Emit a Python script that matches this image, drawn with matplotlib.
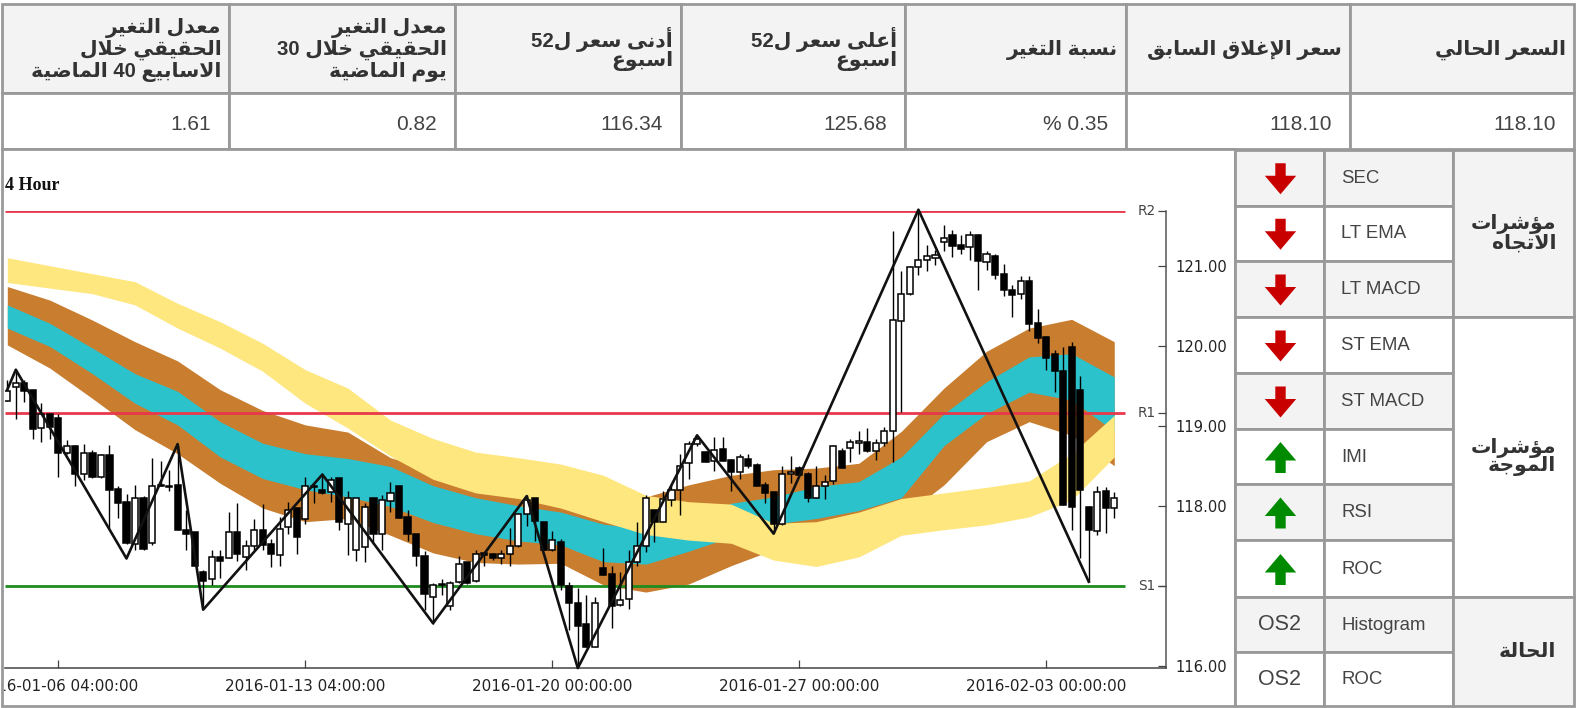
import matplotlib
matplotlib.use("Agg")
import matplotlib.pyplot as plt
from matplotlib.patches import Rectangle, Polygon
from matplotlib.transforms import Bbox

# ---------- data ----------
OPEN = [119.31,119.48,119.54,119.45,118.97,119.15,119.10,118.66,118.74,118.40,118.66,118.36,118.63,118.21,118.04,117.52,118.09,117.53,118.26,118.23,
118.26,117.70,117.67,117.17,117.08,117.36,117.35,117.67,117.36,117.50,117.70,117.52,117.38,117.73,117.97,117.83,118.24,118.20,118.17,118.35,
117.77,117.44,117.48,118.10,117.65,118.06,118.25,117.86,117.64,117.37,116.86,117.02,116.74,117.04,117.29,117.06,117.41,117.40,117.35,117.40,
117.50,117.89,118.09,117.79,117.44,117.55,116.99,116.78,116.52,116.23,117.22,117.15,116.76,116.83,117.30,117.50,117.94,117.80,118.07,118.19,
118.53,118.77,118.67,118.56,118.71,118.57,118.42,118.58,118.51,118.26,118.17,117.77,118.40,118.47,118.40,118.10,118.24,118.31,118.68,118.72,
118.78,118.80,118.68,118.78,118.93,120.31,120.65,120.99,121.07,121.10,121.30,121.39,121.26,121.23,121.38,121.05,121.12,120.90,120.70,120.65,
120.81,120.28,120.11,119.90,119.69,119.99,119.45,117.98,117.68,118.18,117.97]
HIGH = [119.57,119.70,119.57,119.45,119.28,119.15,119.15,118.82,118.76,118.77,118.70,118.65,118.76,118.24,118.15,118.26,118.12,118.59,118.56,118.45,
118.76,117.95,117.67,117.20,117.45,117.45,117.92,118.03,117.57,117.83,118.02,117.58,117.86,118.04,117.97,118.36,118.27,118.38,118.36,118.35,
118.18,118.10,118.03,118.10,118.13,118.29,118.25,117.95,117.64,117.43,117.03,117.08,117.06,117.37,117.30,117.45,117.42,117.41,117.45,117.72,
117.90,118.13,118.09,117.79,117.68,117.58,117.04,116.97,116.88,116.86,117.47,117.24,117.17,117.45,117.79,118.13,117.95,118.18,118.27,118.65,
118.81,118.88,118.68,118.86,118.86,118.58,118.64,118.64,118.53,118.29,118.17,118.49,118.62,118.49,118.42,118.49,118.38,118.76,118.72,118.84,
118.94,118.97,118.83,118.98,121.43,120.93,121.00,121.68,121.26,121.20,121.51,121.45,121.38,121.43,121.40,121.19,121.15,121.02,120.76,120.87,
120.87,120.46,120.12,119.95,119.98,120.05,119.62,118.00,118.25,118.23,118.17]
LOW = [119.31,119.09,119.30,118.83,118.80,118.83,118.36,118.65,118.25,118.32,118.35,118.35,117.72,117.84,117.52,117.45,117.45,117.51,118.24,118.18,
117.70,117.45,117.24,116.72,117.01,117.10,117.34,117.31,117.19,117.45,117.45,117.23,117.25,117.65,117.39,117.77,118.03,118.15,118.04,117.70,
117.38,117.31,117.30,117.52,117.44,117.92,117.85,117.56,117.24,116.70,116.52,116.88,116.70,117.03,117.02,117.05,117.25,117.32,117.27,117.24,
117.48,117.75,117.56,117.44,117.43,116.94,116.44,115.99,116.23,116.23,117.13,116.47,116.75,116.71,117.24,117.42,117.54,117.79,118.00,117.88,
118.33,118.74,118.55,118.43,118.56,118.18,118.33,118.47,118.24,118.03,117.67,117.76,118.28,118.38,118.04,118.09,118.08,118.27,118.47,118.55,
118.64,118.67,118.57,118.75,118.54,119.17,120.64,120.88,120.94,121.01,121.18,121.11,121.15,121.07,120.70,120.95,120.83,120.62,120.36,120.59,
120.19,120.03,119.70,119.42,118.01,117.69,117.35,117.05,117.63,117.66,117.84]
CLOSE = [119.43,119.54,119.43,118.96,119.15,118.98,118.66,118.75,118.40,118.66,118.36,118.63,118.20,118.03,117.53,118.09,117.46,118.25,118.24,118.25,
117.70,117.65,117.24,117.06,117.36,117.31,117.67,117.39,117.50,117.70,117.51,117.40,117.71,117.95,117.61,118.24,118.23,118.16,118.32,117.79,
118.09,118.10,117.98,117.65,118.07,118.16,117.85,117.64,117.37,116.89,117.01,117.01,117.03,117.27,117.03,117.40,117.38,117.34,117.40,117.50,
117.90,118.07,117.81,117.44,117.57,117.01,116.78,116.50,116.23,116.78,117.13,116.74,116.82,117.29,117.49,118.10,117.80,118.08,118.19,118.50,
118.77,118.83,118.55,118.70,118.56,118.42,118.61,118.50,118.24,118.16,117.77,118.40,118.42,118.38,118.10,118.25,118.30,118.75,118.47,118.80,
118.81,118.68,118.78,118.93,120.32,120.65,120.99,121.07,121.12,121.14,121.35,121.25,121.21,121.38,121.06,121.15,120.89,120.70,120.64,120.81,
120.27,120.10,119.85,119.68,118.01,117.98,118.19,117.69,118.17,117.97,118.10]

BAND_INDEX = [0,5,10,15,20,25,30,35,40,45,50,55,60,65,70,75,80,85,90,95,100,105,110,115,120,125,130]
YELLOW_TOP = [121.10,121.00,120.90,120.80,120.53,120.30,120.03,119.70,119.47,119.07,118.84,118.67,118.60,118.52,118.38,118.13,118.05,118.02,117.78,117.80,117.92,118.09,118.16,118.23,118.31,118.65,119.13]
YELLOW_BOT = [120.79,120.72,120.65,120.51,120.22,119.97,119.68,119.28,118.97,118.62,118.33,118.16,118.09,117.97,117.80,117.64,117.57,117.53,117.32,117.24,117.36,117.63,117.70,117.76,117.86,118.07,118.61]
BROWN_TOP = [120.74,120.57,120.32,120.05,119.81,119.45,119.19,119.01,118.92,118.60,118.45,118.30,118.20,118.15,118.10,118.11,118.26,118.38,118.45,118.47,118.53,118.93,119.47,119.93,120.22,120.33,120.05]
CYAN_TOP = [120.51,120.28,119.97,119.65,119.43,119.05,118.78,118.65,118.59,118.49,118.25,118.10,118.00,117.92,117.77,117.70,117.82,118.03,118.11,118.24,118.30,118.61,119.15,119.55,119.86,119.90,119.61]
CYAN_BOT = [120.22,119.99,119.65,119.28,119.01,118.61,118.34,118.20,118.11,117.99,117.79,117.65,117.56,117.51,117.30,117.27,117.43,117.61,117.77,117.84,117.94,118.10,118.75,119.15,119.42,119.32,118.93]
BROWN_BOT = [120.01,119.72,119.34,118.95,118.65,118.28,117.97,117.80,117.84,117.63,117.41,117.29,117.27,117.28,117.01,116.92,117.02,117.25,117.45,117.60,117.75,117.85,118.26,118.80,119.05,118.88,118.50]

ZIGZAG_INDEX = [0,1,14,20,23,37,50,61,67,81,90,107,127]
ZIGZAG_PRICE = [119.45,119.70,117.34,118.77,116.70,118.39,116.53,118.12,115.97,118.88,117.65,121.70,117.05]

LEVEL_NAMES = ["R2","R1","S1"]
LEVEL_VALUES = [121.68,119.16,117.00]
LEVEL_COLORS = ["#E8384C","#E8384C","#1E8C1E"]

XTICK_INDEX = [6,35,64,93,122]
XTICK_LABELS = ["2016-01-06 04:00:00","2016-01-13 04:00:00","2016-01-20 00:00:00","2016-01-27 00:00:00","2016-02-03 00:00:00"]
YTICKS = [116,117,118,119,120,121]

HEADERS = [["معدل التغير","الحقيقي خلال","الاسابيع 40 الماضية"],
           ["معدل التغير","الحقيقي خلال 30","يوم الماضية"],
           ["أدنى سعر ل52","اسبوع"],
           ["أعلى سعر ل52","اسبوع"],
           ["نسبة التغير"],
           ["سعر الإغلاق السابق"],
           ["السعر الحالي"]]
VALUES = ["1.61","0.82","116.34","125.68","% 0.35","118.10","118.10"]

ROW_NAMES = ["SEC","LT EMA","LT MACD","ST EMA","ST MACD","IMI","RSI","ROC","Histogram","ROC"]
ROW_STATE = ["down","down","down","down","down","up","up","up","OS2","OS2"]
GROUPS = [(["مؤشرات","الاتجاه"],0,3),(["مؤشرات","الموجة"],3,8),(["الحالة"],8,10)]

# ---------- Arabic shaping (matplotlib has no bidi/joining) ----------
FORMS = {
 'ا':(0xFE8D,0xFE8E,None,None),'أ':(0xFE83,0xFE84,None,None),'إ':(0xFE87,0xFE88,None,None),
 'ب':(0xFE8F,0xFE90,0xFE91,0xFE92),'ة':(0xFE93,0xFE94,None,None),'ت':(0xFE95,0xFE96,0xFE97,0xFE98),
 'ج':(0xFE9D,0xFE9E,0xFE9F,0xFEA0),'ح':(0xFEA1,0xFEA2,0xFEA3,0xFEA4),'خ':(0xFEA5,0xFEA6,0xFEA7,0xFEA8),
 'د':(0xFEA9,0xFEAA,None,None),'ر':(0xFEAD,0xFEAE,None,None),'س':(0xFEB1,0xFEB2,0xFEB3,0xFEB4),
 'ش':(0xFEB5,0xFEB6,0xFEB7,0xFEB8),'ض':(0xFEBD,0xFEBE,0xFEBF,0xFEC0),'ع':(0xFEC9,0xFECA,0xFECB,0xFECC),
 'غ':(0xFECD,0xFECE,0xFECF,0xFED0),'ق':(0xFED5,0xFED6,0xFED7,0xFED8),'ل':(0xFEDD,0xFEDE,0xFEDF,0xFEE0),
 'م':(0xFEE1,0xFEE2,0xFEE3,0xFEE4),'ن':(0xFEE5,0xFEE6,0xFEE7,0xFEE8),'ه':(0xFEE9,0xFEEA,0xFEEB,0xFEEC),
 'و':(0xFEED,0xFEEE,None,None),'ؤ':(0xFE85,0xFE86,None,None),'ى':(0xFEEF,0xFEF0,None,None),
 'ي':(0xFEF1,0xFEF2,0xFEF3,0xFEF4),
}
LAM_ALEF = {'ا':(0xFEFB,0xFEFC),'أ':(0xFEF7,0xFEF8),'إ':(0xFEF9,0xFEFA)}

def shape(text):
    units = []
    i = 0
    while i < len(text):
        c = text[i]
        if c == 'ل' and i + 1 < len(text) and text[i+1] in LAM_ALEF:
            units.append(('lamalef', text[i+1])); i += 2
        else:
            units.append(('ch', c)); i += 1
    def joins_next(u):
        return u[0] == 'ch' and u[1] in FORMS and FORMS[u[1]][2] is not None
    def arabic(u):
        return u[0] == 'lamalef' or u[1] in FORMS
    out = []
    for k, u in enumerate(units):
        prev_j = k > 0 and joins_next(units[k-1])
        next_j = k + 1 < len(units) and arabic(units[k+1])
        if u[0] == 'lamalef':
            out.append(chr(LAM_ALEF[u[1]][1 if prev_j else 0]))
        elif u[1] in FORMS:
            f = FORMS[u[1]]
            can_next = f[2] is not None and next_j
            if prev_j and can_next:
                out.append(chr(f[3]))
            elif prev_j:
                out.append(chr(f[1]))
            elif can_next:
                out.append(chr(f[2]))
            else:
                out.append(chr(f[0]))
        else:
            out.append(u[1])
    # visual order: reverse, digit runs keep their order
    runs, cur = [], ''
    for ch in out:
        if ch.isdigit() or ch == '.':
            cur += ch
        else:
            if cur:
                runs.append(cur); cur = ''
            runs.append(ch)
    if cur:
        runs.append(cur)
    return ''.join(reversed(runs))

# ---------- figure ----------
W, H = 1576, 708
fig = plt.figure(figsize=(W/100, H/100), dpi=100, facecolor="white")
bg = fig.add_axes([0, 0, 1, 1])
bg.set_xlim(0, W); bg.set_ylim(H, 0); bg.axis("off")

LINE = "#999999"
LW = 2.0
SHADE = "#F3F3F3"
TXT = "#444444"
AR_FONT = ["Liberation Sans", "DejaVu Sans"]

def cell(x0, y0, x1, y1, fill="white"):
    bg.add_patch(Rectangle((x0, y0), x1-x0, y1-y0, fc=fill, ec=LINE, lw=LW, zorder=1))

# top table
cols = [2, 229.5, 455, 681, 905, 1126, 1350, 1574]
r0, r1, r2 = 4, 93, 149
for c, (head, val) in enumerate(zip(HEADERS, VALUES)):
    x0, x1 = cols[c], cols[c+1]
    cell(x0, r0, x1, r1, SHADE)
    cell(x0, r1, x1, r2, "white")
    pitch = 21.5
    y0 = 50 - pitch*(len(head)-1)/2
    for k, line in enumerate(head):
        bg.text(x1-8, y0+k*pitch, shape(line), ha="right", va="center", fontsize=14.7,
                fontweight="bold", family=AR_FONT, color="#333333", zorder=3)
    bg.text(x1-18, 124, val, ha="right", va="center", fontsize=15, family="Liberation Sans",
            color=TXT, zorder=3)

# chart cell
cell(2, r2, 1235.4, 706)

# right table
tc = [1235.4, 1323.6, 1453, 1573.7]
rows = [150, 205.5, 261, 317, 373, 429, 484, 540, 597, 652, 706]
for k, (name, state) in enumerate(zip(ROW_NAMES, ROW_STATE)):
    fill = SHADE if k % 2 == 0 else "white"
    a, b = rows[k], rows[k+1]
    cell(tc[0], a, tc[1], b, fill)
    cell(tc[1], a, tc[2], b, fill)
    cy = (a+b)/2
    bg.text(tc[1]+17.5, cy+0.5, name, ha="left", va="center", fontsize=13.4, family="Liberation Sans",
            color=TXT, zorder=3)
    cx = 1280.5
    if state == "down":
        s = 1
        col = "#C80000"
    elif state == "up":
        s = -1
        col = "#008A00"
    else:
        bg.text(cx-1, cy+0.5, state, ha="center", va="center", fontsize=15.5, family="Liberation Sans",
                color=TXT, zorder=3)
        continue
    ay = cy + 1
    pts = [(cx-5.2, ay-15.5*s), (cx+5.2, ay-15.5*s), (cx+5.2, ay-3*s), (cx+15.7, ay-3*s),
           (cx, ay+15.5*s), (cx-15.7, ay-3*s), (cx-5.2, ay-3*s)]
    bg.add_patch(Polygon(pts, closed=True, fc=col, ec="none", zorder=3))
for j, (lines, a, b) in enumerate(GROUPS):
    y0, y1 = rows[a], rows[b]
    cell(tc[2], y0, tc[3], y1, SHADE if j != 1 else "white")
    pitch = 19
    c = (y0+y1)/2 - pitch*(len(lines)-1)/2
    for k, line in enumerate(lines):
        bg.text(tc[3]-17.5, c+k*pitch, shape(line), ha="right", va="center", fontsize=14.7,
                fontweight="bold", family="DejaVu Sans", color="#333333", zorder=3)

bg.text(5, 185, "4 Hour", ha="left", va="center", fontsize=13, family="Liberation Serif",
        fontweight="bold", color="#111111", zorder=3)

# chart axes: 8.515 px per candle, 80 px per price unit
left, right, top, bottom = 5, 1165.7, 211, 668
ax = fig.add_axes([left/W, 1-bottom/H, (right-left)/W, (bottom-top)/H])
ax.patch.set_alpha(0)
ax.set_xlim(-0.27, 136.04)
ax.set_ylim(115.971, 121.684)
for s in ("top", "left"):
    ax.spines[s].set_visible(False)
ax.spines["bottom"].set_color("#444444"); ax.spines["bottom"].set_linewidth(1.1)
ax.spines["right"].set_color("#555555"); ax.spines["right"].set_linewidth(1.1)

ax.fill_between(BAND_INDEX, BROWN_BOT, BROWN_TOP, color="#C87D2F", lw=0, zorder=1)
ax.fill_between(BAND_INDEX, CYAN_BOT, CYAN_TOP, color="#2BC2CC", lw=0, zorder=1.1)
ax.fill_between(BAND_INDEX, YELLOW_BOT, YELLOW_TOP, color="#FEE77F", lw=0, zorder=1.2)

for name, val, col in zip(LEVEL_NAMES, LEVEL_VALUES, LEVEL_COLORS):
    ax.hlines(val, -0.27, 131.26, color=col, lw=2.0, zorder=2)
    ax.text(134.85, val, name, ha="right", va="center", fontsize=9.8, color=TXT)

idx = list(range(len(OPEN)))
ax.vlines(idx, LOW, HIGH, color="black", lw=1.0, zorder=3)
bodies = [abs(c-o) for o, c in zip(OPEN, CLOSE)]
bases = [min(o, c) for o, c in zip(OPEN, CLOSE)]
fills = ["black" if c < o else "white" for o, c in zip(OPEN, CLOSE)]
ax.bar(idx, bodies, bottom=bases, width=0.72, color=fills, edgecolor="black", linewidth=1.1, zorder=4)

ax.plot(ZIGZAG_INDEX, ZIGZAG_PRICE, color="#111111", lw=1.9, zorder=5, clip_on=False)

ax.set_xticks(XTICK_INDEX, XTICK_LABELS)
ax.tick_params(axis="x", direction="in", length=5.8, width=0.9, color="#444444", labelsize=10.9,
               labelcolor="#222222", pad=7.7)
ax.yaxis.tick_right()
ax.set_yticks(YTICKS + LEVEL_VALUES, [f"{v:.2f}" for v in YTICKS] + [""]*3)
ax.tick_params(axis="y", direction="in", length=5.8, width=0.9, color="#444444", labelsize=10.6,
               labelcolor="#222222", pad=7)
clip = Bbox([[4, 0], [W, H]])
for lab in ax.get_xticklabels():
    lab.set_clip_box(clip)
    lab.set_clip_on(True)

fig.savefig("out.png", dpi=100, facecolor="white")
